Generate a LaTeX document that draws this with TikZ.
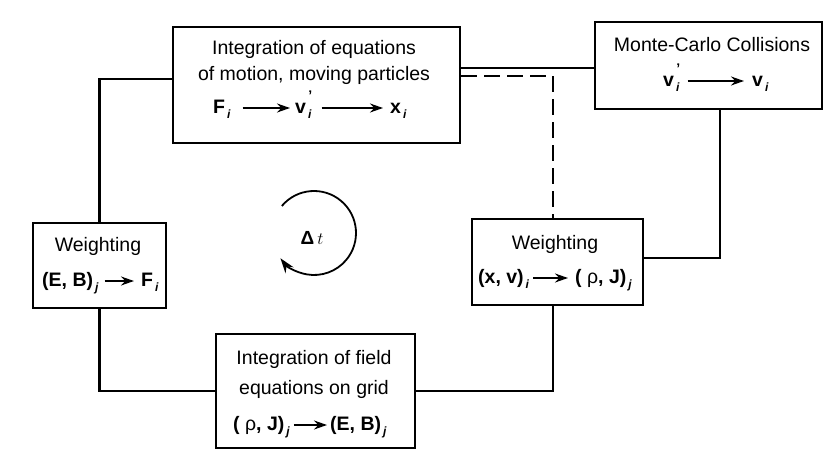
\documentclass[tikz,border=0pt]{standalone}
\usepackage{fontspec}
\setmainfont{Liberation Sans}
\usetikzlibrary{arrows.meta,calc}
\newcommand\ssub[1]{\raisebox{-0.55ex}{\fontsize{12}{12}\selectfont\itshape\,#1}}
\newcommand\pssub[1]{\rlap{\raisebox{1.25ex}{\fontsize{14}{14}\selectfont\,\textbf{'}}}\ssub{#1}}
\begin{document}
\begin{tikzpicture}[x=1pt,y=-1pt,
  box/.style={draw, line width=2.2pt, inner sep=0pt},
  txt/.style={inner sep=0pt, font=\fontsize{19.5}{22}\selectfont, text height=14pt, text depth=4pt},
  ftxt/.style={txt, anchor=west, font=\fontsize{19.5}{22}\selectfont\bfseries},
  arr/.style={line width=1.9pt, -{Stealth[length=13pt,width=9pt]}},
  wire/.style={line width=2.2pt},
  dwire/.style={line width=2.2pt, dash pattern=on 16pt off 7pt}]
\useasboundingbox (0,0) rectangle (838,460);
\fill[white] (0,0) rectangle (838,460);

% boxes
\node[box, minimum width=287pt, minimum height=116pt] (motion) at (316.5,85) {};
\node[box, minimum width=227pt, minimum height=87pt] (mc) at (708.5,65.5) {};
\node[box, minimum width=133pt, minimum height=85pt] (weightL) at (99.5,265.5) {};
\node[box, minimum width=171pt, minimum height=86pt] (weightR) at (557.5,262) {};
\node[box, minimum width=199pt, minimum height=114pt] (field) at (315.5,391) {};

% top box text
\node[txt] (m1) at (314,50) {Integration of equations};
\node[txt] (m2) at (314,76) {of motion, moving particles};
\node[ftxt] (mF) at (213,108) {F\ssub{i}};
\node[ftxt] (mvp) at (295,108) {v\pssub{i}};
\node[ftxt] (mx) at (390,108) {x\ssub{i}};
\draw[arr, shorten <=12pt, shorten >=5pt] (mF.east) -- (mvp.west);
\draw[arr, shorten <=10pt, shorten >=7pt] (mvp.east) -- (mx.west);

% Monte-Carlo box
\node[txt] (c1) at (712,47) {Monte-Carlo Collisions};
\node[ftxt] (cvp) at (663,81) {v\pssub{i}};
\node[ftxt] (cv) at (752,81) {v\ssub{i}};
\draw[arr, shorten <=8pt, shorten >=8pt] (cvp.east) -- (cv.west);

% left weighting
\node[txt] (l1) at (98,246) {Weighting};
\node[ftxt] (lEB) at (42,281) {(E, B)\ssub{j}};
\node[ftxt] (lF) at (141,281) {F\ssub{i}};
\draw[arr, shorten <=6pt, shorten >=7pt] (lEB.east) -- (lF.west);

% right weighting
\node[txt] (r1) at (555,244) {Weighting};
\node[ftxt] (rxv) at (478,278) {(x, v)\ssub{i}};
\node[ftxt] (rrJ) at (575,278) {( \textmd{ρ}, J)\ssub{j}};
\draw[arr, shorten <=4pt, shorten >=7pt] (rxv.east) -- (rrJ.west);

% field box
\node[txt] (f1) at (314,359) {Integration of field};
\node[txt] (f2) at (314,389) {equations on grid};
\node[ftxt] (frJ) at (233,425) {( \textmd{ρ}, J)\ssub{j}};
\node[ftxt] (fEB) at (330,425) {(E, B)\ssub{j}};
\draw[arr, shorten <=4pt, shorten >=3pt] (frJ.east) -- (fEB.west);

% connectors
\draw[wire] ([yshift=6pt]motion.west) -| (weightL.north);
\draw[wire] (weightL.south) |- (field.west);
\draw[wire] (field.east) -| ([xshift=-4.5pt]weightR.south);
\draw[wire] ([yshift=4pt]weightR.east) -| ([xshift=11.5pt]mc.south);
\draw[wire] ([yshift=17pt]motion.east) -- ([yshift=17pt]motion.east -| mc.west);
\draw[dwire] ([yshift=9pt]motion.east) -| ([xshift=-4.5pt]weightR.north);

% time-step cycle
\coordinate (cyc) at (314,233);
\draw[line width=1.8pt, -{Stealth[length=15pt,width=10pt]}] ([shift={(140:42pt)}]cyc) arc[start angle=140, end angle=-143, radius=42pt];
\node[inner sep=0pt, font=\fontsize{19}{19}\selectfont\bfseries] (dt) at (312,238) {Δ\,$t$};
\end{tikzpicture}
\end{document}
